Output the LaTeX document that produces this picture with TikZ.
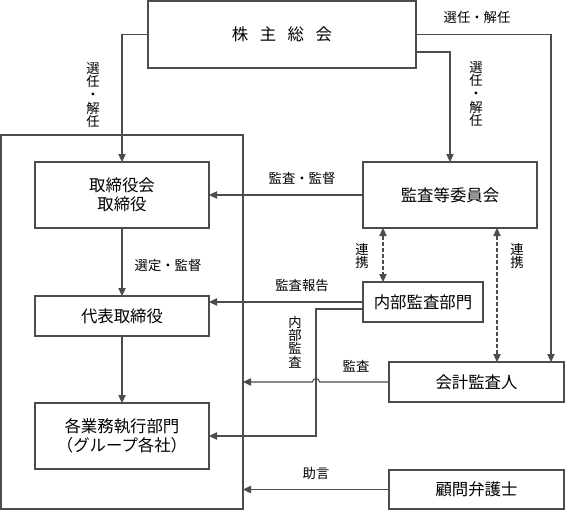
\documentclass[tikz,border=0pt]{standalone}
\usepackage{fontspec}
\setmainfont{Noto Sans CJK JP}
\usetikzlibrary{arrows.meta}

\tikzset{
  box/.style 2 args={draw=black!70, line width=0.8pt, align=center,
    minimum width=#1*0.75pt, minimum height=#2*0.75pt,
    inner sep=0pt, outer sep=0pt, font=\fontsize{12.3}{14}\selectfont},
  lab/.style={font=\fontsize{10}{11}\selectfont, inner sep=0pt},
  vlab/.style={font=\fontsize{10}{9.9}\selectfont, align=center, inner sep=0pt},
  arr/.style={draw=black!70, line width=0.8pt, -{Triangle[width=5.5pt,length=6pt]}},
  linkarr/.style={draw=black!70, line width=0.8pt, dash pattern=on 3pt off 1.5pt,
    {Triangle[width=5.5pt,length=6pt]}-{Triangle[width=5.5pt,length=6pt]}},
}

\begin{document}
\begin{tikzpicture}[x=0.75pt,y=-0.75pt]
                \useasboundingbox (0,0) rectangle (565,512);

                % Marking box shareholders
                \node [box={268}{67}] (share) at (282,34.5)
                  {株\hspace{0.7em}主\hspace{0.7em}総\hspace{0.7em}会};

                % Marking outer box of execution side
                \node [box={242}{374}] (exec) at (122,322) {};

                % Marking boxes inside
                \node [box={174}{66}] (board) at (122,195) {取締役会\\取締役};
                \node [box={174}{40}] (rep) at (122,316) {代表取締役};
                \node [box={174}{66}] (ops) at (122,436) {各業務執行部門\\（グループ各社）};

                % Marking boxes on the right
                \node [box={174}{66}] (audcom) at (450,195) {監査等委員会};
                \node [box={120}{40}] (inaud) at (423,302) {内部監査部門};
                \node [box={175}{40}] (acct) at (476.5,382) {会計監査人};
                \node [box={175}{39}] (lawyer) at (476.5,489.5) {顧問弁護士};

                % Drawing line share -- board
                \draw [arr] (share.west) -| (board.north);
                \node [vlab] (lblsel) at (93,95) {選\\任\\・\\解\\任};

                % Drawing line share -- acct
                \draw [arr] (share.east) -| ([xshift=-9.75pt]acct.north east);
                \node [lab] (lblselr) at (477,17) {選任・解任};

                % Drawing line share -- audcom
                \draw [arr] ([yshift=-13.1pt]share.east) -| (audcom.north);
                \node [vlab] (lblselc) at (476,94) {選\\任\\・\\解\\任};

                % Drawing line audcom -- board
                \draw [arr] (audcom.west) -- (board.east);
                \node [lab] (lblmon) at (302,178) {監査・監督};

                % Drawing line board -- rep -- ops
                \draw [arr] (board.south) -- (rep.north);
                \node [lab] (lblpick) at (168,265) {選定・監督};
                \draw [arr] (rep.south) -- (ops.north);

                % Drawing dashed lines audcom -- inaud, audcom -- acct
                \draw [linkarr] ([xshift=15pt]audcom.south west) -- ([xshift=15pt]inaud.north west);
                \node [vlab] (lbllink) at (362,256) {連\\携};
                \draw [linkarr] ([xshift=100.5pt]audcom.south west) -- ([xshift=100.5pt]audcom.south west |- acct.north);
                \node [vlab] (lbllinkr) at (517,256) {連\\携};

                % Drawing line inaud -- rep
                \draw [arr] (inaud.west) -- (inaud.west -| rep.east);
                \node [lab] (lblrep) at (302,285) {監査報告};

                % Drawing line inaud -- ops
                \draw [arr] ([yshift=-5.25pt]inaud.west) -| ([xshift=80.25pt]ops.east) -- (ops.east);
                \node [vlab] (lblin) at (295,342) {内\\部\\監\\査};

                % Drawing line acct -- exec, with hop
                \draw [arr] (acct.west) -- (319.5,382) arc [start angle=0, end angle=-180, radius=3.5]
                  -- (exec.east |- acct.west);
                \node [lab] (lblaud) at (356,366) {監査};

                % Drawing line lawyer -- exec
                \draw [arr] (lawyer.west) -- (exec.east |- lawyer.west);
                \node [lab] (lbladv) at (316,473) {助言};
\end{tikzpicture}
\end{document}
